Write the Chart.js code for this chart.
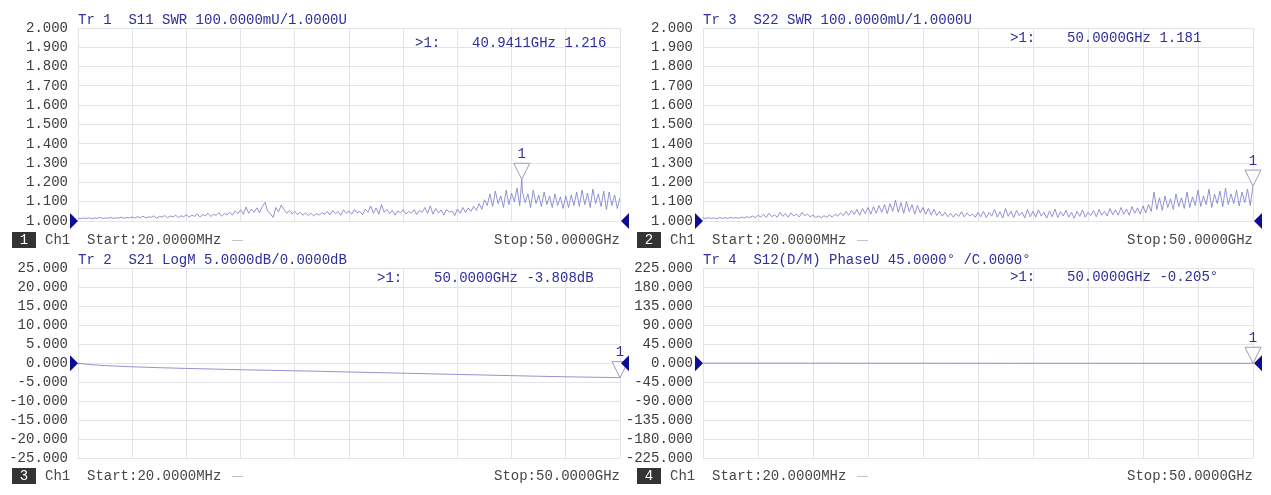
<!DOCTYPE html>
<html>
<head>
<meta charset="utf-8">
<title>VNA 4-trace display</title>
<script src="https://cdn.jsdelivr.net/npm/chart.js@4.4.1/dist/chart.umd.min.js"></script>
<style>
  html, body { margin: 0; padding: 0; background: #ffffff; }
  body { width: 1271px; height: 495px; position: relative; overflow: hidden; }
  canvas { position: absolute; }
</style>
</head>
<body>
<canvas id="p1" width="640" height="250" style="left:0px;top:0px;width:640px;height:250px"></canvas>
<canvas id="p3" width="649" height="250" style="left:622px;top:0px;width:649px;height:250px"></canvas>
<canvas id="p2" width="640" height="245" style="left:0px;top:250px;width:640px;height:245px"></canvas>
<canvas id="p4" width="649" height="245" style="left:622px;top:250px;width:649px;height:245px"></canvas>
<script>
// Sweep: 20 MHz .. 50 GHz (values in GHz)
const sweepStart = 0.02;
const sweepStop = 50;

// Tr 1: S11 SWR, one reading per sweep point
const s11Swr = [
  1.015,1.012,1.016,1.013,1.017,1.012,1.015,1.014,1.018,1.013,1.016,1.014,1.019,1.013,1.017,1.015,1.020,1.014,1.018,1.016,
  1.021,1.015,1.023,1.017,1.025,1.016,1.022,1.019,1.027,1.014,1.024,1.020,1.028,1.017,1.026,1.021,1.030,1.018,1.027,1.022,
  1.032,1.020,1.030,1.024,1.036,1.021,1.033,1.027,1.040,1.023,1.035,1.029,1.043,1.025,1.038,1.031,
  1.046,1.030,1.052,1.038,1.058,1.035,1.072,1.040,1.062,1.045,1.068,1.042,1.075,1.096,1.050,1.038,1.018,1.070,1.048,1.082,
  1.060,1.040,1.055,1.036,1.050,1.033,1.045,1.030,1.042,1.028,1.040,1.026,1.038,1.030,1.044,
  1.035,1.050,1.032,1.055,1.038,1.048,1.030,1.058,1.040,1.052,1.035,1.060,1.042,1.050,1.033,1.062,1.045,1.078,1.040,1.068,
  1.035,1.085,1.045,1.060,1.038,1.055,1.030,1.052,1.042,1.060,1.036,1.050,1.040,1.058,1.034,1.055,1.045,1.070,1.040,1.078,
  1.035,1.065,1.042,1.058,1.030,1.060,1.045,1.052,1.028,1.062,1.040,1.070,1.045,1.068,1.050,
  1.075,1.055,1.090,1.060,1.110,
  1.080,1.140,1.075,1.155,1.090,1.130,1.070,1.160,1.085,1.145,1.100,1.170,1.080,1.150,1.095,
  1.140,1.070,1.160,1.090,1.135,1.075,1.150,1.085,1.130,1.070,1.140,1.080,1.125,1.065,1.130,
  1.070,1.135,1.080,1.150,1.075,1.160,1.085,1.145,1.070,1.165,1.090,1.140,1.075,1.155,1.060,1.150,1.080,1.135,1.065,1.120
];
const s11MarkerFreq = 40.9411;
const s11MarkerSwr = 1.216;

// Tr 3: S22 SWR
const s22Swr = [
  1.016,1.013,1.017,1.014,1.016,1.012,1.018,1.014,1.017,1.013,1.019,1.015,1.018,1.014,1.020,1.016,1.022,
  1.018,1.026,1.017,1.030,1.020,1.035,1.018,1.040,1.022,1.032,1.019,1.045,1.024,1.038,1.020,1.042,1.026,1.036,1.021,1.044,1.028,1.035,
  1.022,1.030,1.018,1.026,1.016,1.028,1.019,1.032,1.020,1.035,
  1.025,1.042,1.028,1.050,1.030,1.055,1.034,1.060,1.030,1.065,1.038,1.070,1.035,1.075,1.040,1.080,1.045,1.085,1.038,1.090,
  1.050,1.108,1.045,1.095,1.040,1.100,1.048,1.085,1.035,1.080,1.042,1.070,1.035,1.065,1.030,1.060,1.028,
  1.050,1.025,1.045,1.022,1.040,1.020,1.038,1.024,1.048,1.021,1.042,1.026,1.036,1.020,1.045,
  1.022,1.050,1.018,1.045,1.025,1.060,1.020,1.048,1.015,1.065,1.024,1.050,1.018,1.055,1.028,1.046,1.016,1.060,1.022,1.050,
  1.020,1.058,1.025,1.045,1.015,1.052,1.022,1.062,1.018,1.048,1.026,1.055,1.020,1.045,1.014,1.050,1.024,1.058,1.020,1.046,
  1.028,1.055,1.022,1.060,1.030,1.050,1.026,1.065,1.032,1.058,1.030,1.070,1.035,1.062,1.030,1.075,1.040,1.068,1.036,1.078,
  1.042,1.085,1.050,
  1.150,1.060,1.120,1.055,1.130,1.070,1.115,1.060,1.140,1.075,1.120,1.065,1.150,1.070,1.125,1.080,1.160,
  1.075,1.130,1.085,1.165,1.070,1.140,1.090,1.155,1.075,1.170,1.085,1.140,1.090,1.160,1.078,1.150,1.095,1.165,1.080,1.181
];
const s22MarkerFreq = 50;
const s22MarkerSwr = 1.181;

// Tr 2: S21 log magnitude (dB)
const s21Freq = [0.02, 1, 2.5, 5, 7.5, 10, 12.5, 15, 17.5, 20, 22.5, 25, 27.5, 30, 32.5, 35, 37.5, 40, 42.5, 45, 47.5, 50];
const s21LogM = [0, -0.35, -0.62, -0.95, -1.18, -1.38, -1.55, -1.72, -1.86, -2.0, -2.15, -2.32, -2.48, -2.64, -2.8, -2.96, -3.12, -3.28, -3.44, -3.58, -3.7, -3.808];
const s21MarkerFreq = 50;
const s21MarkerDb = -3.808;

// Tr 4: S12 unwrapped phase (deg)
const s12Freq = [0.02, 5, 10, 15, 20, 25, 30, 35, 40, 45, 50];
const s12Phase = [0, -0.02, -0.04, -0.06, -0.08, -0.1, -0.12, -0.14, -0.16, -0.18, -0.205];
const s12MarkerFreq = 50;
const s12MarkerDeg = -0.205;

// Axis tick labels
const swrTicks = [1.0, 1.1, 1.2, 1.3, 1.4, 1.5, 1.6, 1.7, 1.8, 1.9, 2.0];
const logMTicks = [-25, -20, -15, -10, -5, 0, 5, 10, 15, 20, 25];
const phaseTicks = [-225, -180, -135, -90, -45, 0, 45, 90, 135, 180, 225];
const freqDivisions = 10;

const FONT_FAMILY = '"Liberation Mono", "DejaVu Sans Mono", monospace';
const TEXT_BLUE = '#2f2f9c';
const NAVY = '#0c0c96';
const GRID = '#e3e3ea';
const TRACE = 'rgba(128,128,205,0.85)';

function sweepPoints(values) {
  const n = values.length;
  const step = (sweepStop - sweepStart) / (n - 1);
  return values.map((v, i) => ({ x: sweepStart + i * step, y: v }));
}

function withMarker(points, fx, fy) {
  const out = points.filter(p => Math.abs(p.x - fx) > 1e-9);
  out.push({ x: fx, y: fy });
  out.sort((a, b) => a.x - b.x);
  return out;
}

function pairs(xs, ys) {
  return xs.map((x, i) => ({ x: x, y: ys[i] }));
}

const freqGrid = [];
for (let k = 0; k <= freqDivisions; k++) {
  freqGrid.push(sweepStart + k * (sweepStop - sweepStart) / freqDivisions);
}

const vnaOverlay = {
  id: 'vnaOverlay',
  afterDraw(chart, args, o) {
    const ctx = chart.ctx;
    const a = chart.chartArea;
    const xs = chart.scales.x, ys = chart.scales.y;
    ctx.save();
    ctx.font = '14px ' + FONT_FAMILY;
    ctx.textBaseline = 'middle';

    // trace header
    ctx.fillStyle = TEXT_BLUE;
    ctx.textAlign = 'left';
    ctx.fillText(o.title, a.left, a.top - 8);

    // active marker readout
    ctx.fillText('>1:', a.left + o.readX, a.top + o.readY);
    ctx.fillText(o.readout, a.left + o.readX + 57, a.top + o.readY);

    // marker 1 symbol
    const mx = xs.getPixelForValue(o.markerX);
    const my = ys.getPixelForValue(o.markerY);
    ctx.strokeStyle = '#9c9cb8';
    ctx.lineWidth = 1;
    ctx.fillStyle = 'rgba(255,255,255,0.7)';
    ctx.beginPath();
    ctx.moveTo(mx - 8, my - 16);
    ctx.lineTo(mx + 8, my - 16);
    ctx.lineTo(mx, my);
    ctx.closePath();
    ctx.fill();
    ctx.stroke();
    ctx.fillStyle = TEXT_BLUE;
    ctx.textAlign = 'center';
    ctx.fillText('1', mx, my - 25);

    // reference level arrows
    const ry = ys.getPixelForValue(o.refLevel);
    ctx.fillStyle = NAVY;
    ctx.beginPath();
    ctx.moveTo(a.left - 8, ry - 8);
    ctx.lineTo(a.left, ry);
    ctx.lineTo(a.left - 8, ry + 8);
    ctx.closePath();
    ctx.fill();
    ctx.beginPath();
    ctx.moveTo(a.right + 9, ry - 8);
    ctx.lineTo(a.right + 1, ry);
    ctx.lineTo(a.right + 9, ry + 8);
    ctx.closePath();
    ctx.fill();

    // channel / sweep status line
    const by = a.bottom + o.rowY;
    ctx.fillStyle = '#333333';
    ctx.fillRect(a.left - 66, by - 8, 24, 16);
    ctx.fillStyle = '#ffffff';
    ctx.textAlign = 'center';
    ctx.fillText(o.win, a.left - 54, by);
    ctx.fillStyle = '#474747';
    ctx.textAlign = 'left';
    ctx.fillText('Ch1', a.left - 33, by);
    ctx.fillText('Start:20.0000MHz', a.left + 9, by);
    ctx.strokeStyle = '#c4c4c4';
    ctx.beginPath();
    ctx.moveTo(a.left + 154, by + 0.5);
    ctx.lineTo(a.left + 165, by + 0.5);
    ctx.stroke();
    ctx.textAlign = 'right';
    ctx.fillText('Stop:50.0000GHz', a.right, by);
    ctx.restore();
  }
};

function makePanel(id, data, yTicks, ov) {
  return new Chart(document.getElementById(id), {
    type: 'line',
    data: {
      datasets: [{
        data: data,
        borderColor: TRACE,
        borderWidth: 1,
        pointRadius: 0,
        tension: 0,
        fill: false
      }]
    },
    options: {
      responsive: false,
      animation: false,
      devicePixelRatio: 1,
      layout: { padding: { left: 0, top: ov.padTop, right: ov.padRight, bottom: 0 } },
      plugins: {
        legend: { display: false },
        tooltip: { enabled: false },
        vnaOverlay: ov
      },
      scales: {
        x: {
          type: 'linear',
          min: sweepStart,
          max: sweepStop,
          afterBuildTicks: s => { s.ticks = freqGrid.map(v => ({ value: v })); },
          afterFit: s => { s.height = ov.xAxisH; },
          ticks: { display: false, autoSkip: false },
          grid: { color: GRID, lineWidth: 1, drawTicks: false },
          border: { display: false }
        },
        y: {
          type: 'linear',
          min: yTicks[0],
          max: yTicks[yTicks.length - 1],
          afterBuildTicks: s => { s.ticks = yTicks.map(v => ({ value: v })); },
          afterFit: s => { s.width = ov.yAxisW; },
          ticks: {
            autoSkip: false,
            color: '#3c3c3c',
            padding: 10,
            font: { family: FONT_FAMILY, size: 14 },
            callback: v => Number(v).toFixed(3)
          },
          grid: { color: GRID, lineWidth: 1, drawTicks: false },
          border: { display: false }
        }
      }
    },
    plugins: [vnaOverlay]
  });
}

makePanel('p1', withMarker(sweepPoints(s11Swr), s11MarkerFreq, s11MarkerSwr), swrTicks, {
  padTop: 28, padRight: 20, xAxisH: 29, yAxisW: 78,
  title: 'Tr 1  S11 SWR 100.0000mU/1.0000U',
  readX: 337, readY: 15, readout: s11MarkerFreq.toFixed(4) + 'GHz ' + s11MarkerSwr.toFixed(3),
  markerX: s11MarkerFreq, markerY: s11MarkerSwr, refLevel: 1.0, win: '1', rowY: 19
});

makePanel('p3', sweepPoints(s22Swr), swrTicks, {
  padTop: 28, padRight: 18, xAxisH: 29, yAxisW: 81,
  title: 'Tr 3  S22 SWR 100.0000mU/1.0000U',
  readX: 307, readY: 10, readout: s22MarkerFreq.toFixed(4) + 'GHz ' + s22MarkerSwr.toFixed(3),
  markerX: s22MarkerFreq, markerY: s22MarkerSwr, refLevel: 1.0, win: '2', rowY: 19
});

makePanel('p2', pairs(s21Freq, s21LogM), logMTicks, {
  padTop: 15, padRight: 20, xAxisH: 37, yAxisW: 78,
  title: 'Tr 2  S21 LogM 5.0000dB/0.0000dB',
  readX: 299, readY: 10, readout: s21MarkerFreq.toFixed(4) + 'GHz ' + s21MarkerDb.toFixed(3) + 'dB',
  markerX: s21MarkerFreq, markerY: s21MarkerDb, refLevel: 0, win: '3', rowY: 18
});

makePanel('p4', pairs(s12Freq, s12Phase), phaseTicks, {
  padTop: 15, padRight: 18, xAxisH: 37, yAxisW: 81,
  title: 'Tr 4  S12(D/M) PhaseU 45.0000° /C.0000°',
  readX: 307, readY: 9, readout: s12MarkerFreq.toFixed(4) + 'GHz ' + s12MarkerDeg.toFixed(3) + '°',
  markerX: s12MarkerFreq, markerY: s12MarkerDeg, refLevel: 0, win: '4', rowY: 18
});
</script>
</body>
</html>
